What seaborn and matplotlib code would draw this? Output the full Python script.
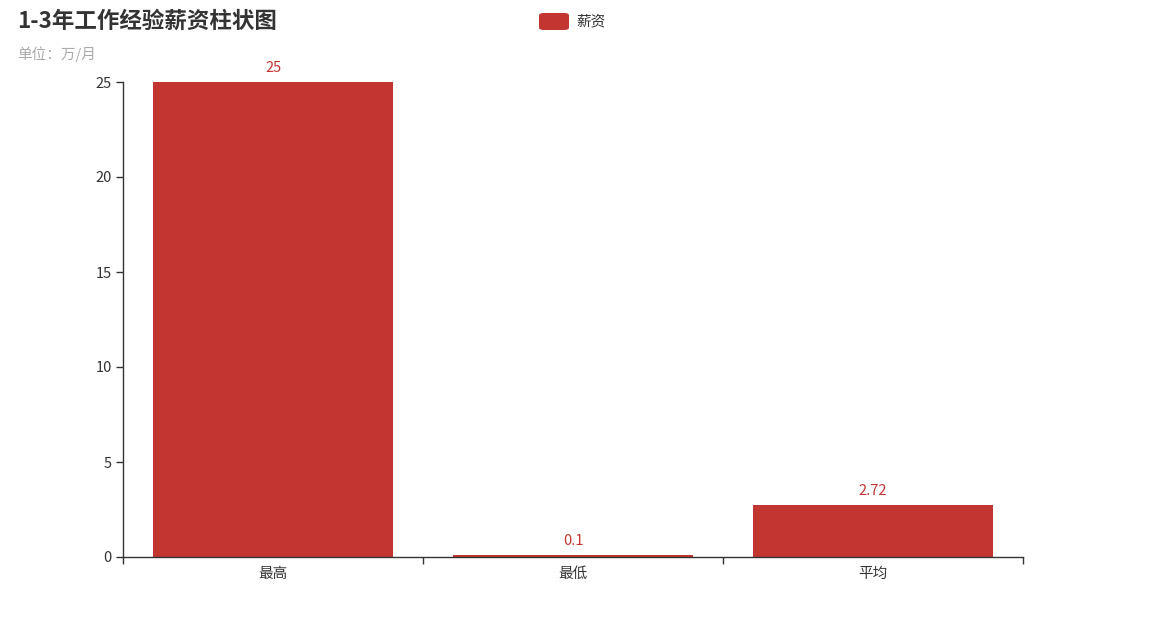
import matplotlib
matplotlib.use("Agg")
import matplotlib.pyplot as plt
import seaborn as sns
import pandas as pd
from matplotlib.patches import FancyBboxPatch

# --- données ---
categories = ["最高", "最低", "平均"]
salaires = [25, 0.1, 2.72]
serie = "薪资"
titre = "1-3年工作经验薪资柱状图"
sous_titre = "单位：万/月"

ROUGE = "#c23531"
GRIS = "#333333"

sns.set_theme(style="white")
plt.rcParams["font.family"] = ["Noto Sans CJK SC", "DejaVu Sans"]

df = pd.DataFrame({"categorie": categories, "valeur": salaires})

fig = plt.figure(figsize=(11.49, 6.36), dpi=100)
ax = fig.add_axes([123 / 1149, 1 - 557 / 636, 900 / 1149, 475 / 636])

sns.barplot(data=df, x="categorie", y="valeur", color=ROUGE, saturation=1,
            width=0.8, ax=ax, errorbar=None)
for p in ax.patches:
    p.set_edgecolor("none")

ax.bar_label(ax.containers[0], labels=[f"{v:g}" for v in salaires],
             padding=5, color=ROUGE, fontsize=10.5)

ax.set_xlim(-0.5, 2.5)
ax.set_ylim(0, 25)
ax.set_yticks([0, 5, 10, 15, 20, 25])
ax.set_xlabel("")
ax.set_ylabel("")

# ticks aux frontières des catégories
ax.set_xticks([-0.5, 0.5, 1.5, 2.5], minor=True)
ax.tick_params(axis="x", which="major", length=0, pad=7, labelsize=10.5, labelcolor=GRIS)
ax.tick_params(axis="x", which="minor", bottom=True, length=5, width=1, color=GRIS,
               direction="out")
ax.tick_params(axis="y", which="major", length=5, width=1, color=GRIS, direction="out",
               left=True, labelsize=10.5, labelcolor=GRIS, pad=3)

for s in ["top", "right"]:
    ax.spines[s].set_visible(False)
for s in ["left", "bottom"]:
    ax.spines[s].set_color(GRIS)
    ax.spines[s].set_linewidth(1)

# titres
fig.text(17 / 1149, 1 - 21 / 636, titre, fontsize=16.2, fontweight="bold",
         color=GRIS, va="center", ha="left")
fig.text(17 / 1149, 1 - 54 / 636, sous_titre, fontsize=10.5, color="#aaaaaa",
         va="center", ha="left")

# légende
fig.patches.append(FancyBboxPatch((539 / 1149, 1 - 30 / 636), 30 / 1149, 17 / 636,
                                  boxstyle="round,pad=0,rounding_size=0.004",
                                  transform=fig.transFigure, facecolor=ROUGE,
                                  edgecolor="none"))
fig.text(576 / 1149, 1 - 21 / 636, serie, fontsize=10.5, color=GRIS,
         va="center", ha="left")

fig.savefig("out.png", dpi=100)
